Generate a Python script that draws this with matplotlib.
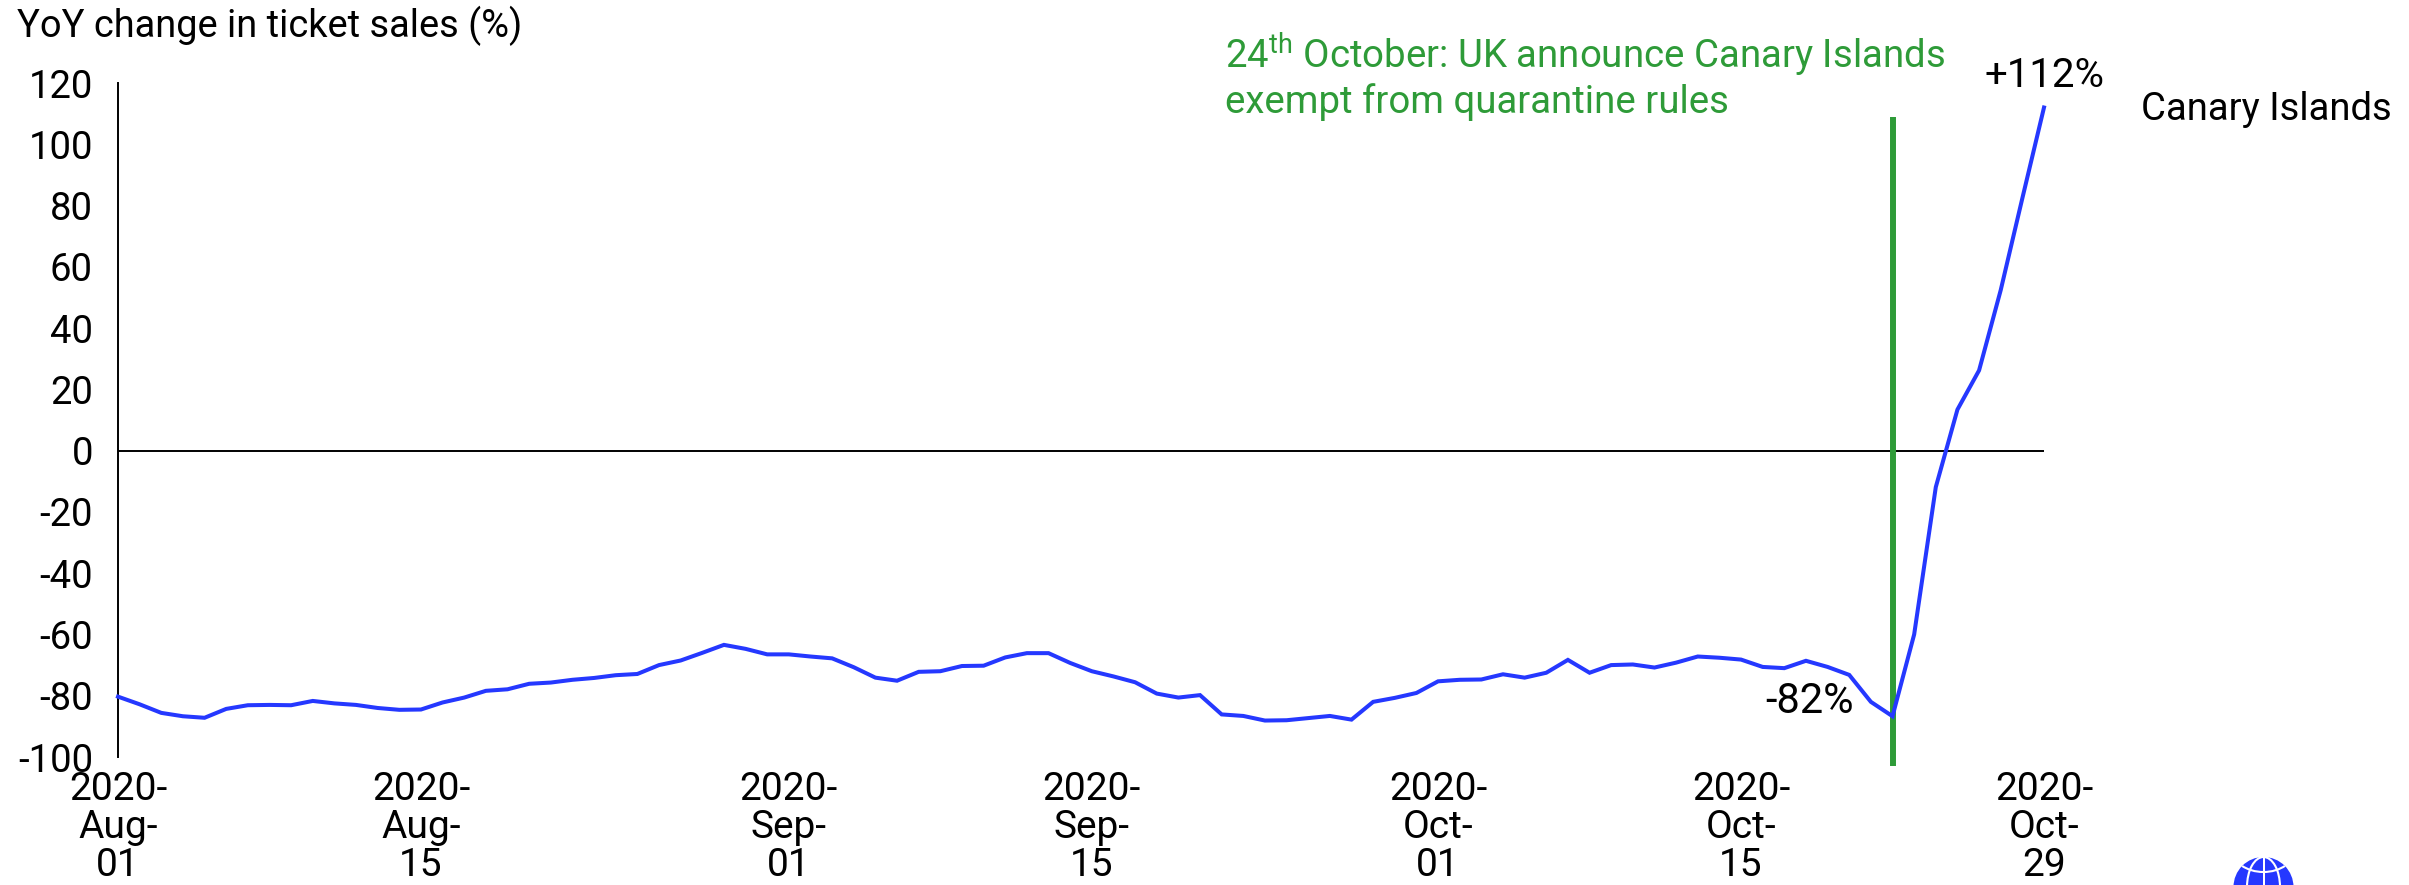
import numpy as np
import pandas as pd
import matplotlib
matplotlib.use('Agg')
import matplotlib.pyplot as plt
from matplotlib.patches import Circle, Ellipse, Rectangle

plt.rcParams['font.family'] = ['Roboto', 'DejaVu Sans']
plt.rcParams['mathtext.default'] = 'regular'
plt.rcParams['axes.unicode_minus'] = False

BLUE = '#2538ff'
GREEN = '#2e9b38'
W, H = 2409, 885

start_date = '2020-08-01'
sales_change = [
    -80.3, -82.8, -85.6, -86.7, -87.2, -84.3, -83.1, -83.0, -83.1, -81.7,
    -82.5, -83.0, -84.0, -84.6, -84.5, -82.2, -80.6, -78.4, -77.9, -76.1,
    -75.7, -74.8, -74.2, -73.3, -72.9, -70.0, -68.5, -66.0, -63.4, -64.7,
    -66.5, -66.5, -67.2, -67.8, -70.7, -74.1, -75.1, -72.2, -72.0, -70.3,
    -70.2, -67.5, -66.1, -66.1, -69.3, -72.0, -73.7, -75.6, -79.3, -80.6,
    -79.8, -86.1, -86.6, -88.1, -88.0, -87.3, -86.6, -87.8, -82.0, -80.7,
    -79.1, -75.3, -74.8, -74.7, -73.0, -74.1, -72.5, -68.3, -72.5, -70.0,
    -69.8, -70.8, -69.2, -67.2, -67.6, -68.2, -70.6, -71.0, -68.6, -70.6,
    -73.2, -82.0, -86.7, -60.0, -11.9, 13.4, 26.2, 52.4, 82.4, 112.0,
]
tick_dates = ['2020-08-01', '2020-08-15', '2020-09-01', '2020-09-15',
              '2020-10-01', '2020-10-15', '2020-10-29']
tick_labels = ['2020-\nAug-\n01', '2020-\nAug-\n15', '2020-\nSep-\n01', '2020-\nSep-\n15',
               '2020-\nOct-\n01', '2020-\nOct-\n15', '2020-\nOct-\n29']
y_ticks = [-100, -80, -60, -40, -20, 0, 20, 40, 60, 80, 100, 120]
event_date = '2020-10-22'
event_span = [-102.8, 109]
low_label_date = '2020-10-21'

dates = pd.date_range(start_date, periods=len(sales_change), freq='D')
sales = pd.Series(sales_change, index=dates)

fig = plt.figure(figsize=(W / 100, H / 100), dpi=100)
ax = fig.add_axes([118 / W, 1 - 757 / H, (2044 - 118) / W, (757 - 83) / H])
ax.set_xlim(dates[0], dates[-1])
ax.set_ylim(-100, 120)

for side in ('top', 'right', 'bottom'):
    ax.spines[side].set_visible(False)
ax.spines['left'].set_linewidth(1.4)
ax.axhline(0, color='black', lw=1.4, zorder=1)

# event marker sits under the series
ax.plot([pd.Timestamp(event_date)] * 2, event_span, color=GREEN, lw=4.3,
        solid_capstyle='butt', clip_on=False, zorder=2)
ax.plot(sales.index, sales.values, color=BLUE, lw=2.9, solid_joinstyle='miter',
        clip_on=False, zorder=3)

ax.set_yticks(y_ticks)
ax.set_xticks(pd.to_datetime(tick_dates))
ax.set_xticklabels(tick_labels, linespacing=1.04)
ax.tick_params(axis='y', length=0, pad=18, labelsize=27.5)
ax.tick_params(axis='x', length=0, pad=10, labelsize=28)

fig.text(17 / W, 1 - 37 / H, 'YoY change in ticket sales (%)', fontsize=27.4,
         va='baseline', ha='left')

fig.text(1225 / W, 1 - 68 / H, r'24$^{th}$ October: UK announce Canary Islands',
         color=GREEN, fontsize=27.6, va='baseline', ha='left')
fig.text(1225 / W, 1 - 113 / H, 'exempt from quarantine rules',
         color=GREEN, fontsize=27.6, va='baseline', ha='left')

ax.annotate(f'+{sales.iloc[-1]:.0f}%', (sales.index[-1], sales.iloc[-1]),
            xytext=(0, 15), textcoords='offset points', ha='center', va='baseline',
            fontsize=29, annotation_clip=False)
ax.annotate('Canary Islands', (sales.index[-1], sales.iloc[-1]),
            xytext=(70, -9), textcoords='offset points', ha='left', va='baseline',
            fontsize=27.5, annotation_clip=False)
low_day = pd.Timestamp(low_label_date)
ax.annotate(f'{sales[low_day]:.0f}%', (low_day, sales[low_day]),
            xytext=(-12, -8), textcoords='offset points', ha='right', va='baseline',
            fontsize=30, annotation_clip=False)

# globe logo in the bottom corner, cut off by the figure edge
logo = fig.add_axes([0, 0, 1, 1], facecolor='none')
logo.set_xlim(0, W)
logo.set_ylim(H, 0)
logo.axis('off')
cx, cy, r = 2263.5, 887, 30
logo.add_patch(Circle((cx, cy), r, color=BLUE, lw=0))
logo.add_patch(Ellipse((cx, cy), 33, 2 * r, fill=False, ec='white', lw=1.5))
logo.add_patch(Rectangle((cx - 1, cy - r), 2, r, color='white', lw=0))
arc = Ellipse((cx, 850), 62, 44, fill=False, ec='white', lw=1.5)
logo.add_patch(arc)
arc.set_clip_path(Circle((cx, cy), r, transform=logo.transData))

fig.savefig('out.png', dpi=100)
